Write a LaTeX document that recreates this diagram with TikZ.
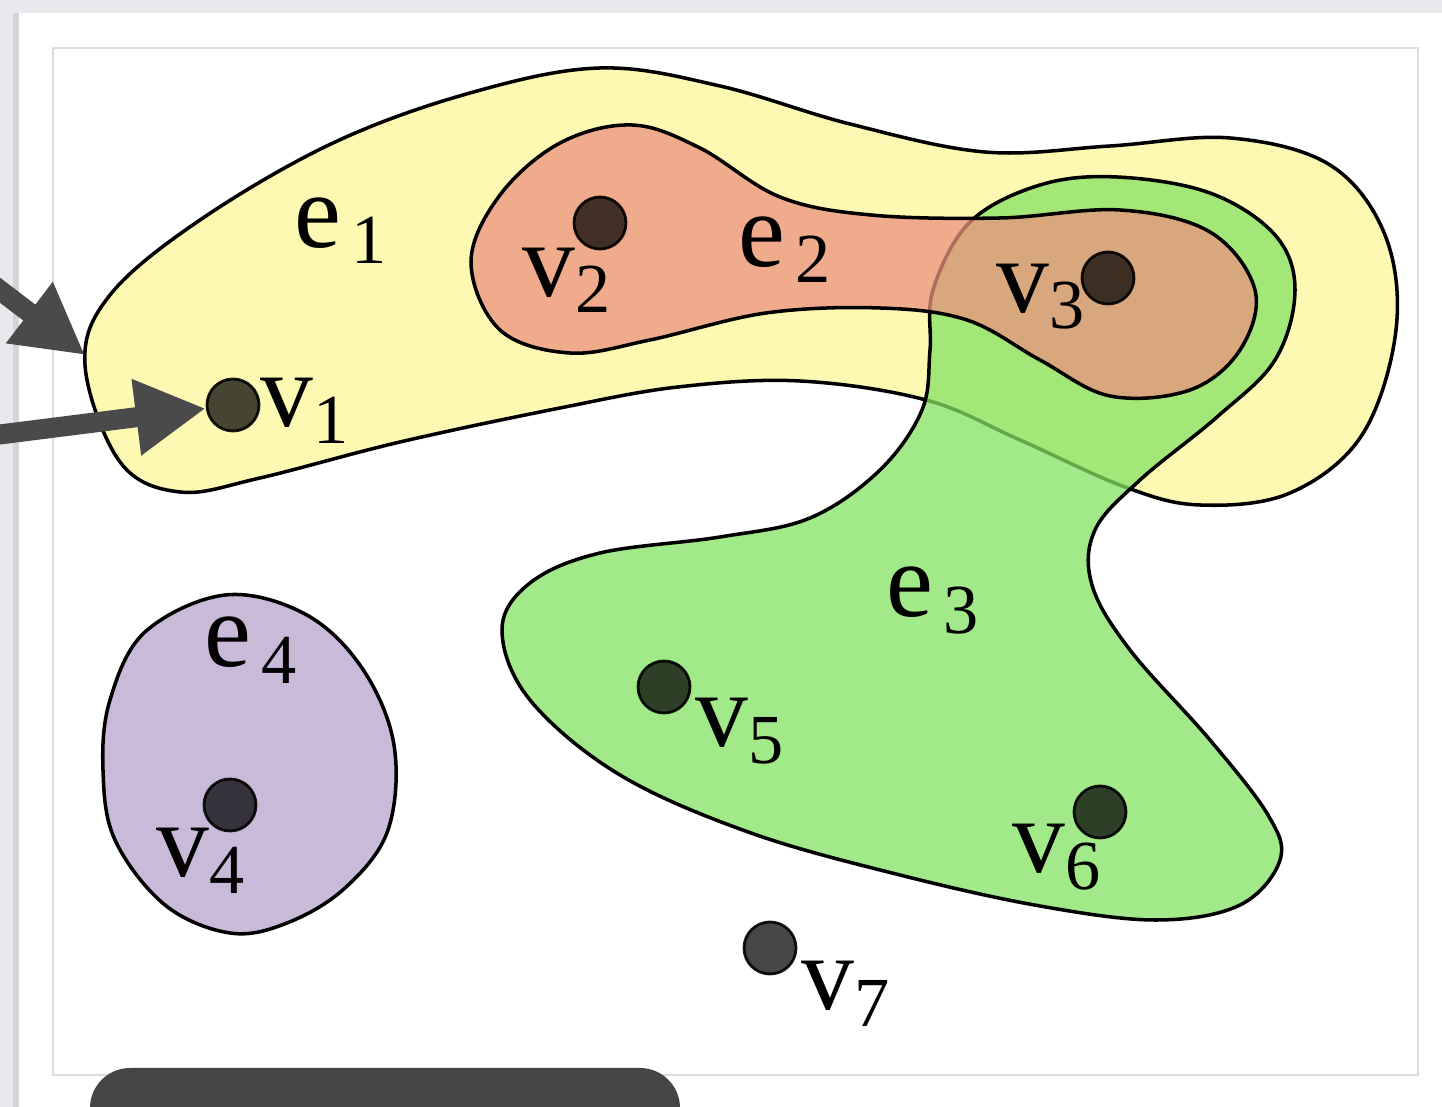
\documentclass[tikz,border=0pt]{standalone}
\usepackage{fontspec}
\setmainfont{Liberation Serif}
\usetikzlibrary{arrows.meta}
\definecolor{pagegray}{HTML}{E8E9EC}
\definecolor{shadegray}{HTML}{D4D5D8}
\definecolor{framegray}{HTML}{DCDCDC}
\definecolor{arrowgray}{HTML}{4A4A4A}
\definecolor{barcolor}{HTML}{454545}
\definecolor{eyellow}{HTML}{FDF8B2}
\definecolor{egreen}{RGB}{132,226,100}
\definecolor{ered}{RGB}{235,146,128}
\definecolor{epurple}{HTML}{C9BAD9}
% letter with a lowered index, e.g. v_1
\newcommand\idx[3]{#1\hspace{#3}\raisebox{-0.16cm}{\fontsize{20}{20}\selectfont #2}}
\begin{document}
\begin{tikzpicture}[x=0.01cm,y=-0.01cm,
  region/.style={draw=black, line width=1pt, line join=round},
  vtx/.style={circle, minimum size=0.52cm, inner sep=0pt, fill=black,
    fill opacity=0.72, draw=black, draw opacity=0.9, line width=0.8pt},
  lab/.style={anchor=base west, inner sep=0pt, font=\fontsize{30}{30}\selectfont, text=black},
  pointer/.style={draw=arrowgray, line width=0.2cm,
    -{Triangle[length=0.7cm,width=0.72cm,fill=arrowgray]}}]

\useasboundingbox (0,0) rectangle (1442,1107);
\begin{scope}
\clip (0,0) rectangle (1442,1107);

% page background and frame
\fill[pagegray] (0,0) rectangle (1442,1107);
\fill[white] (17,13) rectangle (1442,1107);
\draw[shadegray, line width=1.5pt] (16,13) -- (16,1107);
\draw[framegray, line width=0.6pt] (53,48) rectangle (1418,1075);

% hyperedge e1
\filldraw[region, fill=eyellow] plot[smooth cycle, tension=0.6] coordinates {
 (85,365) (110,295) (200,220) (333,143) (470,93) (600,68) (720,86) (850,124)
 (985,152) (1110,146) (1230,138) (1330,165) (1385,235) (1396,330) (1362,435)
 (1290,493) (1200,505) (1125,487) (1020,440) (926,400) (800,381) (678,387)
 (560,408) (400,442) (260,478) (180,492) (120,462)};

% hyperedge e3
\filldraw[region, fill=egreen, fill opacity=0.75] plot[smooth cycle, tension=0.6] coordinates {
 (933,290) (970,222) (1040,185) (1117,177) (1210,193) (1275,235) (1295,290)
 (1275,360) (1217,417) (1140,480) (1095,530) (1092,585) (1130,650) (1210,740)
 (1268,815) (1280,860) (1240,905) (1157,920) (1040,906) (900,875) (751,833)
 (620,775) (530,700) (502,630) (530,583) (600,553) (720,537) (810,518)
 (880,470) (922,410) (930,350)};

% hyperedge e2
\filldraw[region, fill=ered, fill opacity=0.75] plot[smooth cycle, tension=0.6] coordinates {
 (471,262) (500,195) (560,143) (632,125) (700,148) (780,197) (871,215)
 (1000,218) (1120,210) (1210,232) (1255,290) (1240,350) (1190,390) (1110,396)
 (1040,360) (967,320) (880,308) (766,313) (650,340) (570,353) (500,330)};

% hyperedge e4
\filldraw[region, fill=epurple] plot[smooth cycle, tension=0.6] coordinates {
 (225,595) (305,614) (362,668) (394,745) (388,830) (345,888) (287,923)
 (230,933) (165,905) (115,840) (103,770) (110,700) (145,632)};

% vertices
\node[vtx] (v1) at (233,405) {};
\node[vtx] (v2) at (600,223) {};
\node[vtx] (v3) at (1108,278) {};
\node[vtx] (v4) at (230,805) {};
\node[vtx] (v5) at (664,687) {};
\node[vtx] (v6) at (1100,812) {};
\node[vtx] (v7) at (770,948) {};

% labels
\node[lab] (le1) at (294,248) {\idx{e}{1}{0.1cm}};
\node[lab] (le2) at (738,267) {\idx{e}{2}{0.1cm}};
\node[lab] (le3) at (886,617) {\idx{e}{3}{0.1cm}};
\node[lab] (le4) at (204,667) {\idx{e}{4}{0.1cm}};
\node[lab] (lv1) at (260,427) {\idx{v}{1}{0pt}};
\node[lab] (lv2) at (522,297) {\idx{v}{2}{0pt}};
\node[lab] (lv3) at (996,313) {\idx{v}{3}{0pt}};
\node[lab] (lv4) at (156,877) {\idx{v}{4}{0pt}};
\node[lab] (lv5) at (695,747) {\idx{v}{5}{0pt}};
\node[lab] (lv6) at (1012,873) {\idx{v}{6}{0pt}};
\node[lab] (lv7) at (801,1010) {\idx{v}{7}{0pt}};

% pointers
\coordinate (a1tail) at (-20,275);
\coordinate (a1head) at (85,355);
\coordinate (a2tail) at (-20,437);
\draw[pointer] (a1tail) -- (a1head);
\draw[pointer] (a2tail) -- (v1);

% dark bar at the bottom
\fill[barcolor, rounded corners=0.4cm] (90,1068) rectangle (680,1160);
\end{scope}
\end{tikzpicture}
\end{document}
